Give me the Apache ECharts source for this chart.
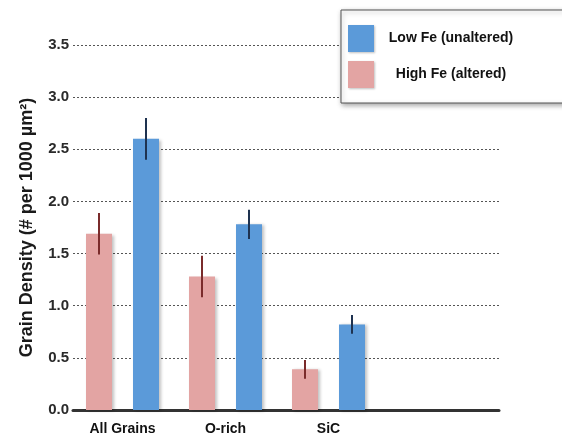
<!DOCTYPE html>
<html>
<head>
<meta charset="utf-8">
<script src="https://cdn.jsdelivr.net/npm/echarts@6/dist/echarts.min.js"></script>
<style>html,body{margin:0;padding:0;background:#fff;}#c{width:562px;height:436px;}</style>
</head>
<body>
<div id="c"></div>
<script>
const categories = ['All Grains', 'O-rich', 'SiC', ''];
const highFe = [1.69, 1.28, 0.39];
const highFeErr = [0.2, 0.2, 0.09];
const lowFe = [2.6, 1.78, 0.82];
const lowFeErr = [0.2, 0.14, 0.09];
const yMin = 0, yMax = 3.5, yStep = 0.5;
const seriesNames = ['High Fe (altered)', 'Low Fe (unaltered)'];
const legendOrder = ['Low Fe (unaltered)', 'High Fe (altered)'];

const PINK = '#e3a4a3', BLUE = '#5b9ad9';
const BAR_W = 26, BAR_GAP = 21;
const font = '"Liberation Sans", Arial, sans-serif';

function errSeries(vals, errs, sign, color) {
  return {
    type: 'custom', xAxisIndex: 0, yAxisIndex: 0, z: 5, silent: true,
    data: vals.map((v, i) => [i, v, errs[i]]),
    renderItem: function (params, api) {
      const i = api.value(0), v = api.value(1), e = api.value(2);
      const top = api.coord([i, v + e]);
      const bot = api.coord([i, v - e]);
      const x = top[0] + sign * (BAR_W + BAR_GAP) / 2;
      return { type: 'line', shape: { x1: x, y1: top[1], x2: x, y2: bot[1] },
               style: { stroke: color, lineWidth: 2 } };
    }
  };
}

const chart = echarts.init(document.getElementById('c'), null, { renderer: 'canvas' });
chart.setOption({
  animation: false,
  backgroundColor: '#fff',
  grid: [
    { left: 71, top: 45, width: 412, height: 365 },
    { left: 73, top: 45, right: 63, height: 365 }
  ],
  xAxis: [
    { type: 'category', gridIndex: 0, data: categories,
      axisLine: { show: false }, axisTick: { show: false },
      axisLabel: { color: '#111', fontFamily: font, fontWeight: 'bold', fontSize: 14, margin: 12 } },
    { type: 'value', gridIndex: 1, min: 0, max: 1,
      axisLine: { show: true, lineStyle: { color: '#333', width: 3 } },
      axisTick: { show: false }, axisLabel: { show: false }, splitLine: { show: false } }
  ],
  yAxis: [
    { type: 'value', gridIndex: 0, min: yMin, max: yMax, interval: yStep, show: false },
    { type: 'value', gridIndex: 1, min: yMin, max: yMax, interval: yStep,
      name: 'Grain Density (# per 1000 µm²)', nameLocation: 'middle', nameGap: 37,
      nameTextStyle: { color: '#1a1a1a', fontFamily: font, fontWeight: 'bold', fontSize: 18 },
      axisLine: { show: false }, axisTick: { show: false },
      axisLabel: { color: '#2a2a2a', fontFamily: font, fontWeight: 'bold', fontSize: 15, margin: 4,
                   formatter: v => v.toFixed(1) },
      splitLine: { show: true, lineStyle: { color: '#555', type: [2, 2], width: 1 } } }
  ],
  legend: {
    data: legendOrder, orient: 'vertical', left: 341, top: 10,
    itemWidth: 26, itemHeight: 27, itemGap: 9,
    padding: [15, 60, 15, 7],
    backgroundColor: '#fff', borderColor: '#555', borderWidth: 1,
    shadowBlur: 5, shadowColor: 'rgba(0,0,0,0.35)', shadowOffsetX: 1, shadowOffsetY: 2,
    icon: 'rect',
    itemStyle: { shadowBlur: 2, shadowColor: 'rgba(0,0,0,0.25)', shadowOffsetX: 1, shadowOffsetY: 1 },
    formatter: name => '{a|' + name + '}',
    textStyle: { rich: { a: { width: 144, align: 'center', color: '#111', fontFamily: font,
                               fontWeight: 'bold', fontSize: 14 } } }
  },
  series: [
    { name: seriesNames[0], type: 'bar', xAxisIndex: 0, yAxisIndex: 0, data: highFe,
      barWidth: BAR_W, barGap: (BAR_GAP / BAR_W * 100) + '%',
      itemStyle: { color: PINK, shadowBlur: 3, shadowOffsetX: 2, shadowOffsetY: 1, shadowColor: 'rgba(0,0,0,0.25)' } },
    { name: seriesNames[1], type: 'bar', xAxisIndex: 0, yAxisIndex: 0, data: lowFe,
      barWidth: BAR_W, barGap: (BAR_GAP / BAR_W * 100) + '%',
      itemStyle: { color: BLUE, shadowBlur: 3, shadowOffsetX: 2, shadowOffsetY: 1, shadowColor: 'rgba(0,0,0,0.25)' } },
    errSeries(highFe, highFeErr, -1, '#7a2b2b'),
    errSeries(lowFe, lowFeErr, 1, '#1e3250')
  ]
});
</script>
</body>
</html>
